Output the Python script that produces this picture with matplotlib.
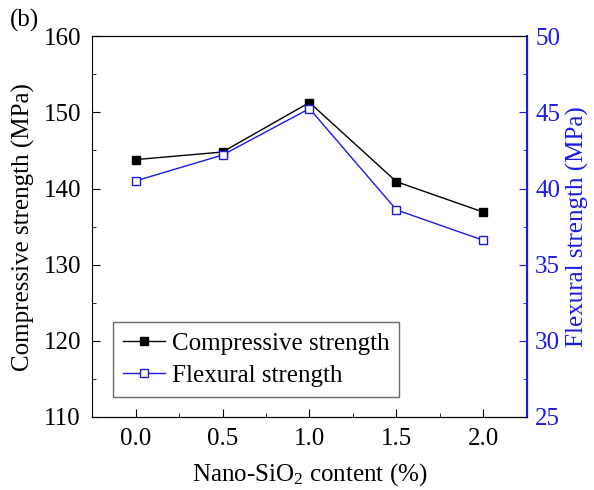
import numpy as np
import matplotlib
matplotlib.use('Agg')
import matplotlib.pyplot as plt
from matplotlib.ticker import MultipleLocator

plt.rc('font', size=18, family='Liberation Serif')
plt.rc('mathtext', fontset='custom', rm='Liberation Serif', it='Liberation Serif:italic')

content = [0.0, 0.5, 1.0, 1.5, 2.0]
compressive = [143.8, 144.8, 151.3, 140.9, 136.9]
flexural = [40.5, 42.2, 45.25, 38.6, 36.6]

blue = '#1a1ae6'

fig = plt.figure(figsize=(5.94, 4.9), dpi=100)
ax = fig.add_axes([0.155, 0.149, 0.732, 0.777])
ax2 = ax.twinx()

l1, = ax.plot(content, compressive, 'k-', marker='s', ms=6, lw=1,
              label='Compressive strength')
l2, = ax2.plot(content, flexural, '-', color=blue, marker='s', ms=6, lw=1,
               mfc='white', mec=blue, label='Flexural strength')

ax.set_xlim(-0.25, 2.25)
ax.set_ylim(110, 160)
ax2.set_ylim(25, 50)
ax.set_xticks(content)
ax.set_xticklabels(['0.0', '0.5', '1.0', '1.5', '2.0'])
ax.xaxis.set_minor_locator(MultipleLocator(0.25))
ax.yaxis.set_minor_locator(MultipleLocator(5))
ax2.yaxis.set_minor_locator(MultipleLocator(2.5))

ax.tick_params(which='both', direction='in', top=False, right=False)
ax.tick_params(which='major', length=6, pad=8)
ax.tick_params(which='minor', length=3)
ax2.tick_params(which='both', direction='in', colors=blue)
ax2.tick_params(which='major', length=6, pad=6)
ax2.tick_params(which='minor', length=3)
ax2.spines['right'].set_color(blue)
ax2.spines['right'].set_linewidth(1.5)
ax2.spines['left'].set_visible(False)

ax.set_xlabel('Nano-SiO$_2$ content (%)', labelpad=8)
ax.set_ylabel('Compressive strength (MPa)', labelpad=6)
ax2.set_ylabel('Flexural strength (MPa)', color=blue, labelpad=4)

leg = ax.legend(handles=[l1, l2], loc='lower left', bbox_to_anchor=(0.048, 0.052),
                borderaxespad=0, fancybox=False, edgecolor='#444444',
                handlelength=1.7, borderpad=0.4, labelspacing=0.4,
                handletextpad=0.25)
leg.get_frame().set_linewidth(1)

fig.text(0.017, 0.945, '(b)', fontsize=18)

plt.savefig('out.png', dpi=100)
